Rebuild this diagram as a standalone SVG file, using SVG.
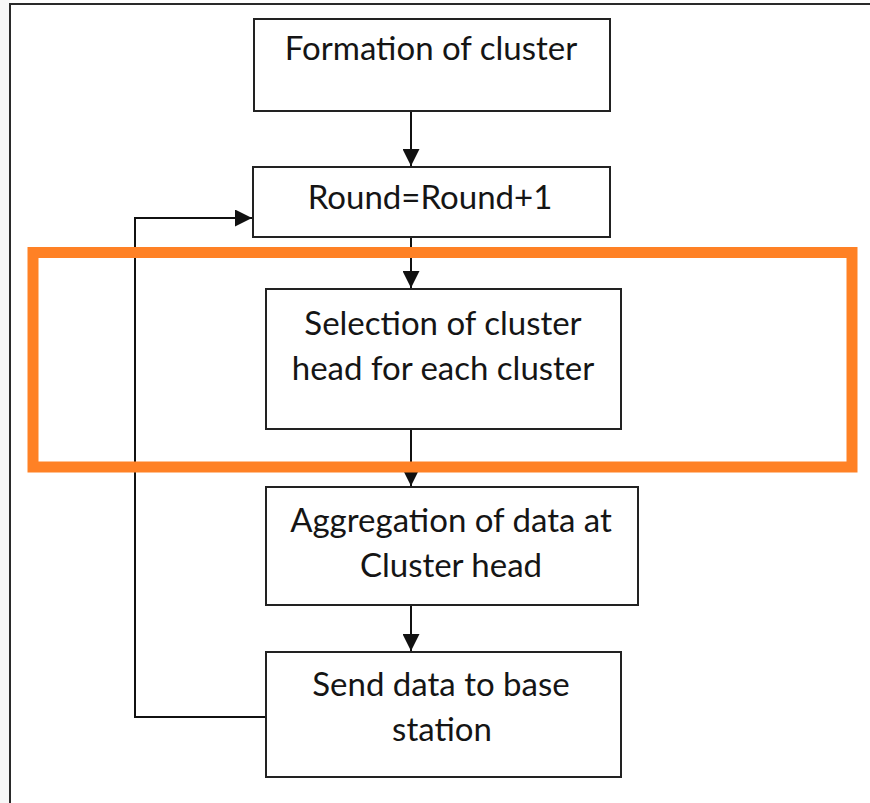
<svg xmlns="http://www.w3.org/2000/svg" width="870" height="803" viewBox="0 0 870 803">
  <style>
    .box { fill: #ffffff; stroke: #222222; stroke-width: 2; }
    .lbl { font-family: Lato, "Open Sans", "Liberation Sans", sans-serif; font-size: 33px; fill: #151515; text-anchor: middle; }
    .wire { fill: none; stroke: #111111; stroke-width: 2; }
  </style>
  <defs>
    <marker id="arrow" viewBox="0 0 10 10" refX="10" refY="5" markerWidth="8.5" markerHeight="8.5" markerUnits="strokeWidth" orient="auto">
      <path d="M0,0 L10,5 L0,10 Z" fill="#111111"/>
    </marker>
  </defs>

  <!-- page background and frame -->
  <rect x="0" y="0" width="870" height="803" fill="#ffffff"/>
  <rect x="0" y="0" width="10" height="803" fill="#f7f7f7"/>
  <path d="M10,803 V4 H870" fill="none" stroke="#2a2a2a" stroke-width="2"/>

  <!-- connectors -->
  <g id="connectors">
    <line class="wire" x1="411" y1="111" x2="411" y2="166" marker-end="url(#arrow)"/>
    <line class="wire" x1="411" y1="237" x2="411" y2="288" marker-end="url(#arrow)"/>
    <line class="wire" x1="411" y1="429" x2="411" y2="486" marker-end="url(#arrow)"/>
    <line class="wire" x1="411" y1="605" x2="411" y2="651" marker-end="url(#arrow)"/>
    <path class="wire" d="M266,717 H135 V218 H252" marker-end="url(#arrow)"/>
  </g>

  <g id="formation">
    <rect class="box" x="254" y="19" width="356" height="92"/>
    <text class="lbl" x="431" y="60">Formation of cluster</text>
  </g>

  <g id="round">
    <rect class="box" x="253" y="167" width="357" height="70"/>
    <text class="lbl" x="430" y="209">Round=Round+1</text>
  </g>

  <g id="selection">
    <rect class="box" x="266" y="289" width="355" height="140"/>
    <text class="lbl" x="443" y="335">Selection of cluster</text>
    <text class="lbl" x="443" y="380">head for each cluster</text>
  </g>

  <g id="aggregation">
    <rect class="box" x="266" y="487" width="372" height="118"/>
    <text class="lbl" x="451" y="532">Aggregation of data at</text>
    <text class="lbl" x="451" y="577">Cluster head</text>
  </g>

  <g id="send">
    <rect class="box" x="266" y="652" width="355" height="125"/>
    <text class="lbl" x="441" y="696">Send data to base</text>
    <text class="lbl" x="442" y="741">station</text>
  </g>

  <!-- highlight around the cluster-head selection step -->
  <g id="highlight">
    <rect x="33" y="252.5" width="819" height="214.5" fill="none" stroke="#ff8125" stroke-width="11"/>
  </g>
</svg>
